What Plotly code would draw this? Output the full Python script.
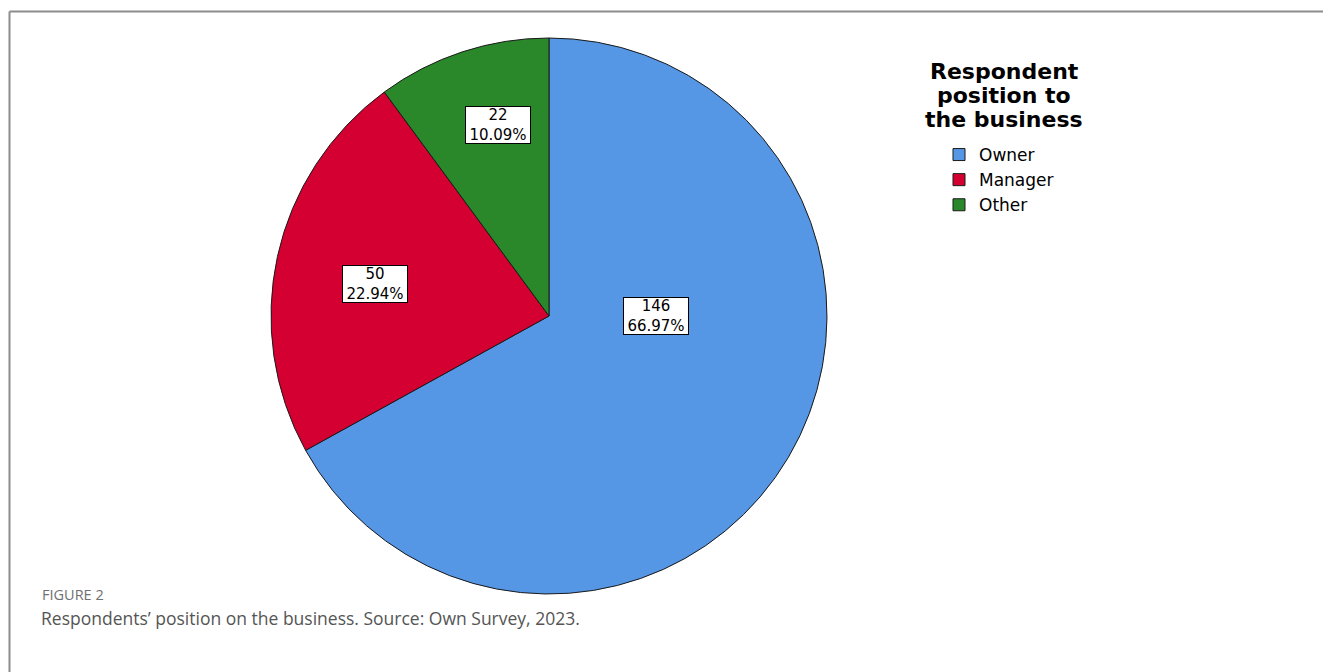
import plotly.graph_objects as go

# ---- data ----
categories = ["Owner", "Manager", "Other"]
counts = [146, 50, 22]
colors = ["#5596E5", "#D50032", "#2A872A"]
legend_title_lines = ["Respondent", "position to", "the business"]
figure_label = "FIGURE 2"
caption = "Respondents\u2019 position on the business. Source: Own Survey, 2023."

W, H = 1323, 672
total = sum(counts)
pcts = [c / total * 100 for c in counts]

def px(x):
    return x / W

def py(y):
    return 1 - y / H

# pie geometry (pixels)
cx, cy, r = 549, 316, 278

fig = go.Figure()
fig.add_trace(go.Pie(
    labels=categories,
    values=counts,
    sort=False,
    direction="clockwise",
    rotation=0,
    textinfo="none",
    marker=dict(colors=colors, line=dict(color="#1a1a1a", width=1)),
    domain=dict(x=[px(cx - r), px(cx + r)], y=[py(cy + r), py(cy - r)]),
    showlegend=True,
))

annotations = []
# slice value labels (boxed)
label_pos = [(656, 316), (374.5, 284), (498, 125.5)]
for (lx, ly), c, p in zip(label_pos, counts, pcts):
    annotations.append(dict(
        x=px(lx), y=py(ly), xref="paper", yref="paper",
        text=f"{c}<br>{p:.2f}%", showarrow=False,
        font=dict(family="DejaVu Sans", size=15, color="#000"),
        bgcolor="#ffffff", bordercolor="#000000", borderwidth=1, borderpad=1,
        width=62, height=34, align="center",
        xanchor="center", yanchor="middle",
    ))

# legend title (three lines)
for i, line in enumerate(legend_title_lines):
    annotations.append(dict(
        x=px(1004), y=py(72 + i * 23.8), xref="paper", yref="paper",
        text=f"<b>{line}</b>", showarrow=False,
        font=dict(family="DejaVu Sans", size=22, color="#000"),
        xanchor="center", yanchor="middle",
    ))

# caption
annotations.append(dict(
    x=px(40), y=py(594), xref="paper", yref="paper",
    text=figure_label, showarrow=False,
    font=dict(family="Open Sans", size=14.5, color="#707070"),
    xanchor="left", yanchor="middle",
))
annotations.append(dict(
    x=px(39), y=py(618), xref="paper", yref="paper",
    text=caption, showarrow=False,
    font=dict(family="Open Sans", size=17.5, color="#555555"),
    xanchor="left", yanchor="middle",
))

shapes = [
    dict(type="line", xref="paper", yref="paper",
         x0=px(9.5), x1=1, y0=py(11.5), y1=py(11.5),
         line=dict(color="#8c8c8c", width=2)),
    dict(type="line", xref="paper", yref="paper",
         x0=px(9.5), x1=px(9.5), y0=py(11.5), y1=0,
         line=dict(color="#8c8c8c", width=2)),
]

fig.update_layout(
    width=W, height=H,
    margin=dict(l=0, r=0, t=0, b=0),
    paper_bgcolor="#ffffff",
    plot_bgcolor="#ffffff",
    showlegend=True,
    legend=dict(
        x=px(939), y=py(137), xanchor="left", yanchor="top",
        font=dict(family="DejaVu Sans", size=17, color="#000"),
        bgcolor="rgba(0,0,0,0)", traceorder="normal",
    ),
    annotations=annotations,
    shapes=shapes,
)

fig.write_html("out.html")
